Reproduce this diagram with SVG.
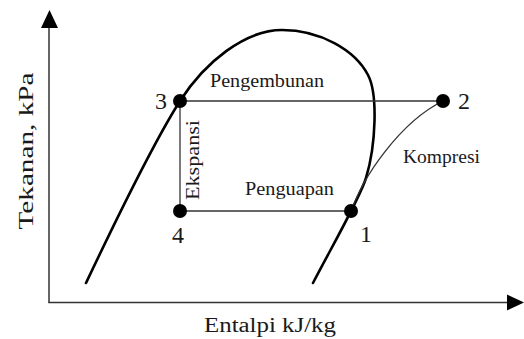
<svg xmlns="http://www.w3.org/2000/svg" width="524" height="339" viewBox="0 0 524 339">
<style>
text{fill:#1a1a1a}
.lbl{font-size:18px}
.num{font-size:24px}
.ax{font-size:20px}
.axis{stroke:#333;stroke-width:1.5;fill:none}
.line{stroke:#333;stroke-width:1.3;fill:none}
.dome{stroke:#000;stroke-width:2.6;fill:none;stroke-linecap:round}
.dot{fill:#000}
</style>
<rect width="524" height="339" fill="#fff"/>
<g font-family="'Liberation Serif', 'Times New Roman', 'DejaVu Serif', serif">
<g id="axes">
<line class="axis" x1="49" y1="27" x2="49" y2="302.5"/>
<line class="axis" x1="48.25" y1="302.5" x2="509" y2="302.5"/>
<polygon points="49.5,10 41,28 58,28" fill="#000"/>
<polygon points="524,302.5 507,294.5 507,310.5" fill="#000"/>
<text class="ax" transform="translate(33,151) rotate(-90)" text-anchor="middle" textLength="157" lengthAdjust="spacingAndGlyphs">Tekanan, kPa</text>
<text class="ax" x="204" y="332" textLength="132" lengthAdjust="spacingAndGlyphs">Entalpi kJ/kg</text>
</g>
<g id="dome">
<path class="dome" d="M86,283 C105,243 150,148 180,101 C205,62 245,30 282,30 C320,30 355,50 368,75 C378,94 376,145 366,178 C360,198 330,250 313,283"/>
</g>
<g id="connectors">
<line class="line" x1="180" y1="101" x2="443" y2="101"/>
<line class="line" x1="180" y1="101" x2="180" y2="211"/>
<line class="line" x1="180" y1="211" x2="351" y2="211"/>
<path class="line" d="M351,212 C362,178 400,122 443,101"/>
</g>
<g id="labels">
<text class="lbl" x="210" y="87" textLength="114" lengthAdjust="spacingAndGlyphs">Pengembunan</text>
<text class="lbl" x="245" y="195" textLength="89" lengthAdjust="spacingAndGlyphs">Penguapan</text>
<text class="lbl" x="403" y="163" textLength="77" lengthAdjust="spacingAndGlyphs">Kompresi</text>
<text class="lbl" transform="translate(199,160) rotate(-90)" text-anchor="middle" textLength="80" lengthAdjust="spacingAndGlyphs">Ekspansi</text>
</g>
<g id="node3"><circle class="dot" cx="180" cy="101" r="7"/><text class="num" x="155" y="109">3</text></g>
<g id="node2"><circle class="dot" cx="443" cy="101" r="7"/><text class="num" x="458" y="109">2</text></g>
<g id="node4"><circle class="dot" cx="180" cy="211" r="7"/><text class="num" x="172" y="243">4</text></g>
<g id="node1"><circle class="dot" cx="351" cy="211" r="7"/><text class="num" x="360" y="242">1</text></g>
</g>
</svg>
